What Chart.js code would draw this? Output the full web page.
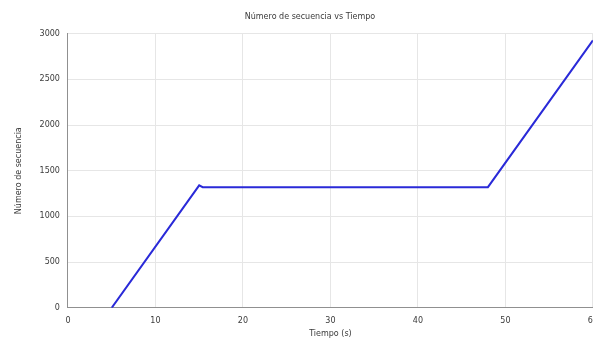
<!DOCTYPE html>
<html>
<head>
<meta charset="utf-8">
<script src="https://cdn.jsdelivr.net/npm/chart.js@4/dist/chart.umd.min.js"></script>
<style>
  html, body { margin: 0; padding: 0; background: #ffffff; overflow: hidden; }
  #wrap { position: relative; width: 606px; height: 339px; }
</style>
</head>
<body>
<div id="wrap"><canvas id="c"></canvas></div>
<script>
// Sequence number over time (s)
const tiempo = [5.0, 15.0, 15.4, 48.0, 60.0];
const secuencia = [0, 1340, 1320, 1320, 2925];
const xTicks = [0, 10, 20, 30, 40, 50, 60];
const yTicks = [0, 500, 1000, 1500, 2000, 2500, 3000];

const points = tiempo.map((t, i) => ({ x: t, y: secuencia[i] }));
const fontFam = '"DejaVu Sans", sans-serif';
const textColor = '#3a3a3a';

new Chart(document.getElementById('c'), {
  type: 'line',
  data: {
    datasets: [{
      data: points,
      borderColor: '#2a2ad8',
      borderWidth: 2,
      pointRadius: 0,
      tension: 0,
      fill: false
    }]
  },
  options: {
    responsive: true,
    maintainAspectRatio: false,
    animation: false,
    layout: { padding: { left: 14, right: 0, top: 8, bottom: 0 } },
    plugins: {
      legend: { display: false },
      tooltip: { enabled: false },
      title: {
        display: true,
        text: 'Número de secuencia vs Tiempo',
        color: textColor,
        font: { family: fontFam, size: 8, weight: 'normal' },
        padding: { top: 4, bottom: 12 }
      }
    },
    scales: {
      x: {
        type: 'linear',
        min: xTicks[0],
        max: xTicks[xTicks.length - 1],
        afterBuildTicks: (axis) => { axis.ticks = xTicks.map(v => ({ value: v })); },
        grid: { color: '#e6e6e6', drawTicks: false },
        border: { color: '#909090', width: 1 },
        ticks: {
          color: textColor, font: { family: fontFam, size: 8 }, padding: 8, maxRotation: 0,
          callback: (v) => String(v)
        },
        title: {
          display: true,
          text: 'Tiempo (s)',
          color: textColor,
          font: { family: fontFam, size: 8 },
          padding: { top: -4, bottom: 0 }
        }
      },
      y: {
        type: 'linear',
        min: yTicks[0],
        max: yTicks[yTicks.length - 1],
        afterBuildTicks: (axis) => { axis.ticks = yTicks.map(v => ({ value: v })); },
        grid: { color: '#e6e6e6', drawTicks: false },
        border: { color: '#909090', width: 1 },
        ticks: {
          color: textColor, font: { family: fontFam, size: 8 }, padding: 8,
          callback: (v) => String(v)
        },
        title: {
          display: true,
          text: 'Número de secuencia',
          color: textColor,
          font: { family: fontFam, size: 8 },
          padding: { top: 0, bottom: 8 }
        }
      }
    }
  }
});
</script>
</body>
</html>
